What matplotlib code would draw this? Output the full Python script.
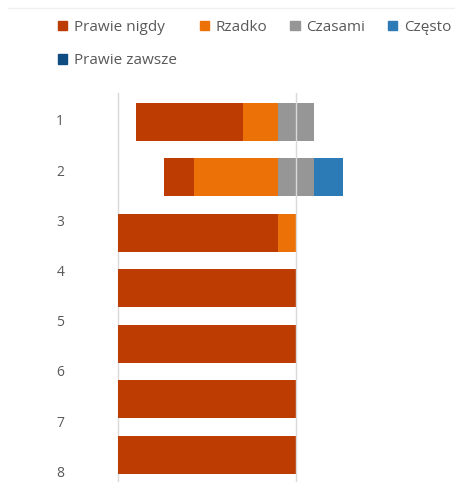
import matplotlib
matplotlib.use("Agg")
import matplotlib.pyplot as plt
from matplotlib.patches import Patch
from matplotlib.lines import Line2D
import numpy as np

plt.rcParams['font.family'] = ['Open Sans', 'DejaVu Sans']

questions = ["1", "2", "3", "4", "5", "6", "7", "8"]
series = ["Prawie nigdy", "Rzadko", "Czasami", "Często", "Prawie zawsze"]
prawie_nigdy = [60, 16.7, 90, 100, 100, 100, 100, 100]
rzadko = [20, 47.2, 10, 0, 0, 0, 0, 0]
czasami = [20, 20, 0, 0, 0, 0, 0, 0]
czesto = [0, 16.5, 0, 0, 0, 0, 0, 0]
prawie_zawsze = [0, 0, 0, 0, 0, 0, 0, 0]
colors = ["#BC3C02", "#EC7208", "#969696", "#2C7AB6", "#0F4C81"]

W, H = 455, 482
fig = plt.figure(figsize=(W / 100, H / 100), dpi=100)
ax = fig.add_axes([110 / W, 0, 1 - 110 / W, (H - 93) / H])

data = np.array([prawie_nigdy, rzadko, czasami, czesto, prawie_zawsze])
y = np.arange(len(questions))
left = -(data[0] + data[1] + data[2] / 2)
for vals, col, name in zip(data, colors, series):
    ax.barh(y, vals, left=left, height=0.68, color=col, label=name, zorder=2)
    left = left + vals

# gridlines at -100 and 0
for xv in (-100, 0):
    ax.axvline(xv, color="#d9d9d9", lw=1, zorder=3 if xv == 0 else 1)

ax.set_xlim(-104.5, 89.3)
ax.set_ylim(6.49, -0.52)
for s in ax.spines.values():
    s.set_visible(False)
ax.set_xticks([])
# category labels sit on a slightly tighter spacing than the bars
ax.set_yticks(-0.036 + 0.905 * y)
ax.set_yticklabels(questions, fontsize=10, color="#595959")
ax.tick_params(axis="y", length=0, pad=33)

handles = [Patch(color=c) for c in colors]
order = [0, 4, 1, 2, 3]
fig.legend([handles[i] for i in order], [series[i] for i in order],
           ncol=4, loc="upper left", bbox_to_anchor=(44 / W, 1 - 6 / H),
           frameon=False, fontsize=11, labelcolor="#595959",
           handlelength=0.6, handleheight=0.6, handletextpad=0.45,
           columnspacing=1.5, labelspacing=1.2)

fig.add_artist(Line2D([8 / W, 1], [1 - 8 / H, 1 - 8 / H], color="#f0f0f0", lw=1))

fig.savefig("out.png", dpi=100)
